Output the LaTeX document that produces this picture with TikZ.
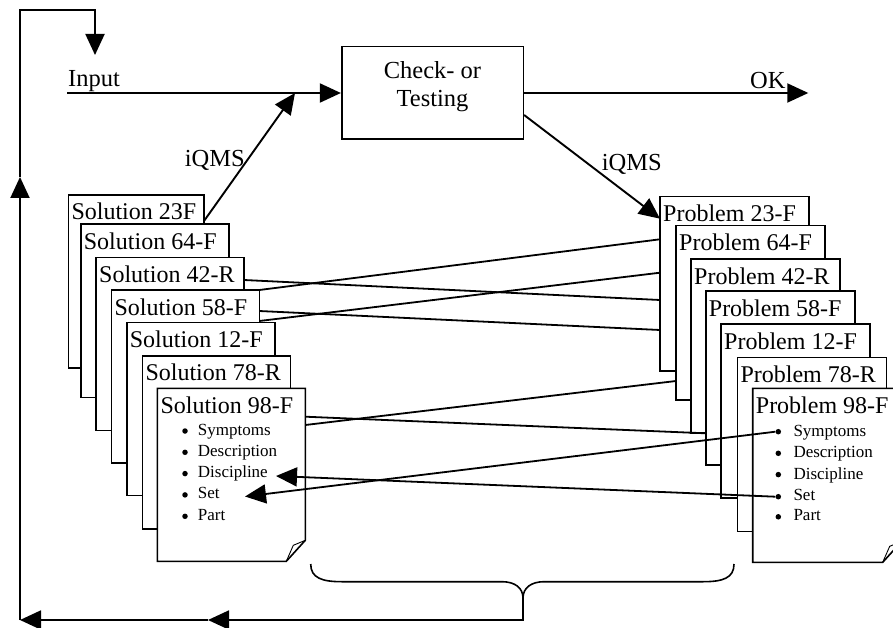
\documentclass[tikz,border=0pt]{standalone}
\usepackage{fontspec}
\setmainfont{Liberation Serif}
\usetikzlibrary{arrows.meta}
\begin{document}
\begin{tikzpicture}[x=1pt,y=-1pt,
  card/.style={draw, line width=1.6pt, fill=white, minimum width=148pt, minimum height=173pt, inner sep=0pt, outer sep=0pt, anchor=north west},
  pcard/.style={card, minimum width=149pt, minimum height=174pt},
  ttl/.style={font=\fontsize{24}{28}\selectfont, inner sep=0pt, anchor=base west},
  itm/.style={font=\fontsize{17}{20}\selectfont, inner sep=0pt, anchor=base west},
  dot/.style={circle, fill, inner sep=0pt, minimum size=5.5pt},
  lbl/.style={font=\fontsize{24.5}{28}\selectfont, inner sep=0pt},
  arr/.style={line width=1.9pt, -{Triangle[length=21pt,width=19pt]}},
  link/.style={line width=1.8pt},
  fold/.style={line width=0.9pt}]
\useasboundingbox (0,0) rectangle (893,628);
\clip (0,0) rectangle (893,628);
\fill[white] (0,0) rectangle (893,628);

% ---- feedback loop coordinates
\coordinate (bT) at (523,598);
\coordinate (bB) at (523,620);
\coordinate (fA) at (208,620);
\coordinate (fC) at (20,620);
\coordinate (fU) at (20,177);
\coordinate (fTL) at (20,10);
\coordinate (fTR) at (95,10);
\coordinate (fD) at (95,55);

% ---- check box
\node[draw, line width=1.6pt, minimum width=181.6pt, minimum height=92.6pt, inner sep=0pt] (chk) at (432.5,93) {};
\node[lbl, anchor=base] (chk1) at (432.5,78.3) {Check- or};
\node[lbl, anchor=base] (chk2) at (432.5,106.7) {Testing};

\coordinate (inS) at (67,93);
\coordinate (okT) at (808.3,93);
\coordinate (iqT1) at (295,93);

% ---- solution cards
\node[card, minimum width=135.7pt] (s1) at (68.3,195) {};
\node[ttl] (s1t) at ([xshift=3pt,yshift=-25pt]s1.north west) {Solution 23F};
\node[card] (s2) at (80.7,224.3) {};
\node[ttl] (s2t) at ([xshift=3pt,yshift=-25pt]s2.north west) {Solution 64-F};
\node[card] (s3) at (96,257.3) {};
\node[ttl] (s3t) at ([xshift=3pt,yshift=-25pt]s3.north west) {Solution 42-R};
\node[card] (s4) at (111.3,290) {};
\node[ttl] (s4t) at ([xshift=3pt,yshift=-25pt]s4.north west) {Solution 58-F};
\node[card] (s5) at (126.7,322.3) {};
\node[ttl] (s5t) at ([xshift=3pt,yshift=-25pt]s5.north west) {Solution 12-F};
\node[card] (s6) at (142.3,355.7) {};
\node[ttl] (s6t) at ([xshift=3pt,yshift=-25pt]s6.north west) {Solution 78-R};
\node[card, draw=none] (s7) at (157.3,388.3) {};
\draw[line width=1.6pt] (s7.north west) -- (s7.north east) -- ([yshift=21pt]s7.south east) -- ([xshift=-19pt]s7.south east) -- (s7.south west) -- cycle;
\draw[fold] ([yshift=21pt]s7.south east) -- ([xshift=-12pt,yshift=16pt]s7.south east) -- ([xshift=-19pt]s7.south east);
\node[ttl] (s7t) at ([xshift=3pt,yshift=-25pt]s7.north west) {Solution 98-F};
\node[dot] (sd1) at ([xshift=27.7pt,yshift=-42.7pt]s7.north west) {};
\node[dot] (sd2) at ([xshift=27.7pt,yshift=-64pt]s7.north west) {};
\node[dot] (sd3) at ([xshift=27.7pt,yshift=-85.3pt]s7.north west) {};
\node[dot] (sd4) at ([xshift=27.7pt,yshift=-106.6pt]s7.north west) {};
\node[dot] (sd5) at ([xshift=27.7pt,yshift=-128pt]s7.north west) {};
\node[itm] (si1) at ([xshift=40.4pt,yshift=-46.7pt]s7.north west) {Symptoms};
\node[itm] (si2) at ([xshift=40.4pt,yshift=-68pt]s7.north west) {Description};
\node[itm] (si3) at ([xshift=40.4pt,yshift=-89.3pt]s7.north west) {Discipline};
\node[itm] (si4) at ([xshift=40.4pt,yshift=-110.6pt]s7.north west) {Set};
\node[itm] (si5) at ([xshift=40.4pt,yshift=-132pt]s7.north west) {Part};
\coordinate (sDiscT) at (276,476);
\coordinate (sSetT) at (245,496.5);

% ---- problem cards
\node[pcard] (p1) at (660,196.7) {};
\node[ttl] (p1t) at ([xshift=3pt,yshift=-25pt]p1.north west) {Problem 23-F};
\node[pcard] (p2) at (676,225.7) {};
\node[ttl] (p2t) at ([xshift=3pt,yshift=-25pt]p2.north west) {Problem 64-F};
\node[pcard] (p3) at (691,259) {};
\node[ttl] (p3t) at ([xshift=3pt,yshift=-25pt]p3.north west) {Problem 42-R};
\node[pcard] (p4) at (705.7,291) {};
\node[ttl] (p4t) at ([xshift=3pt,yshift=-25pt]p4.north west) {Problem 58-F};
\node[pcard] (p5) at (721,324) {};
\node[ttl] (p5t) at ([xshift=3pt,yshift=-25pt]p5.north west) {Problem 12-F};
\node[pcard] (p6) at (737.3,357.3) {};
\node[ttl] (p6t) at ([xshift=3pt,yshift=-25pt]p6.north west) {Problem 78-R};
\node[pcard, draw=none] (p7) at (752.7,388.3) {};
\draw[line width=1.6pt] (p7.north west) -- (p7.north east) -- ([yshift=21pt]p7.south east) -- ([xshift=-19pt]p7.south east) -- (p7.south west) -- cycle;
\draw[fold] ([yshift=21pt]p7.south east) -- ([xshift=-12pt,yshift=16pt]p7.south east) -- ([xshift=-19pt]p7.south east);
\node[ttl] (p7t) at ([xshift=3pt,yshift=-25pt]p7.north west) {Problem 98-F};
\node[dot] (pd1) at ([xshift=25.6pt,yshift=-43.4pt]p7.north west) {};
\node[dot] (pd2) at ([xshift=25.6pt,yshift=-65pt]p7.north west) {};
\node[dot] (pd3) at ([xshift=25.6pt,yshift=-86.3pt]p7.north west) {};
\node[dot] (pd4) at ([xshift=25.6pt,yshift=-108.4pt]p7.north west) {};
\node[dot] (pd5) at ([xshift=25.6pt,yshift=-128.5pt]p7.north west) {};
\node[itm] (pi1) at ([xshift=40.6pt,yshift=-48pt]p7.north west) {Symptoms};
\node[itm] (pi2) at ([xshift=40.6pt,yshift=-69.5pt]p7.north west) {Description};
\node[itm] (pi3) at ([xshift=40.6pt,yshift=-90.7pt]p7.north west) {Discipline};
\node[itm] (pi4) at ([xshift=40.6pt,yshift=-111.7pt]p7.north west) {Set};
\node[itm] (pi5) at ([xshift=40.6pt,yshift=-132pt]p7.north west) {Part};

% ---- links between solutions and problems
\draw[link] ([yshift=-22.7pt]s3.north east) -- ([yshift=-103.3pt]p1.north west);
\draw[link] (s4.north east) -- ([yshift=-42.6pt]p1.north west);
\draw[link] ([yshift=-21pt]s4.north east) -- ([yshift=-133.3pt]p1.north west);
\draw[link] ([yshift=-31pt]s4.north east) -- ([yshift=-76pt]p1.north west);
\draw[link] ([yshift=-36.7pt]s7.north east) -- ([yshift=-155.3pt]p2.north west);
\draw[link] ([yshift=-28.4pt]s7.north east) -- ([yshift=-142.3pt]p4.north west);
\draw[arr, line width=1.8pt] (pd1.west) -- (sSetT);
\draw[arr, line width=1.8pt] (pd4.west) -- (sDiscT);

% ---- main flow
\draw[arr] (inS) -- (chk.west);
\draw[arr] (chk.east) -- (okT);
\draw[arr] ([yshift=-26pt]s1.north east) -- (iqT1);
\draw[arr] ([yshift=-22pt]chk.east) -- ([yshift=-22pt]p1.north west);
\node[lbl, anchor=base west] (inL) at (68,87) {Input};
\node[lbl, anchor=base west] (okL) at (750,89) {OK};
\node[lbl, anchor=base east] (iq1) at (245,167) {iQMS};
\node[lbl, anchor=base west] (iq2) at (601.7,171) {iQMS};

% ---- brace and feedback
\draw[line width=1.6pt] (310.7,564) .. controls (310.7,578) and (322,581.7) .. (342,581.7) -- (502,581.7) .. controls (515,581.7) and (523,588) .. (bT) .. controls (523,588) and (531,581.7) .. (544,581.7) -- (703,581.7) .. controls (723,581.7) and (734,578) .. (734,564);
\draw[arr] (bT) -- (bB) -- (fA);
\draw[arr] (fA) -- (fC);
\draw[arr] (fC) -- (fU);
\draw[arr] (fU) -- (fTL) -- (fTR) -- (fD);
\end{tikzpicture}
\end{document}
